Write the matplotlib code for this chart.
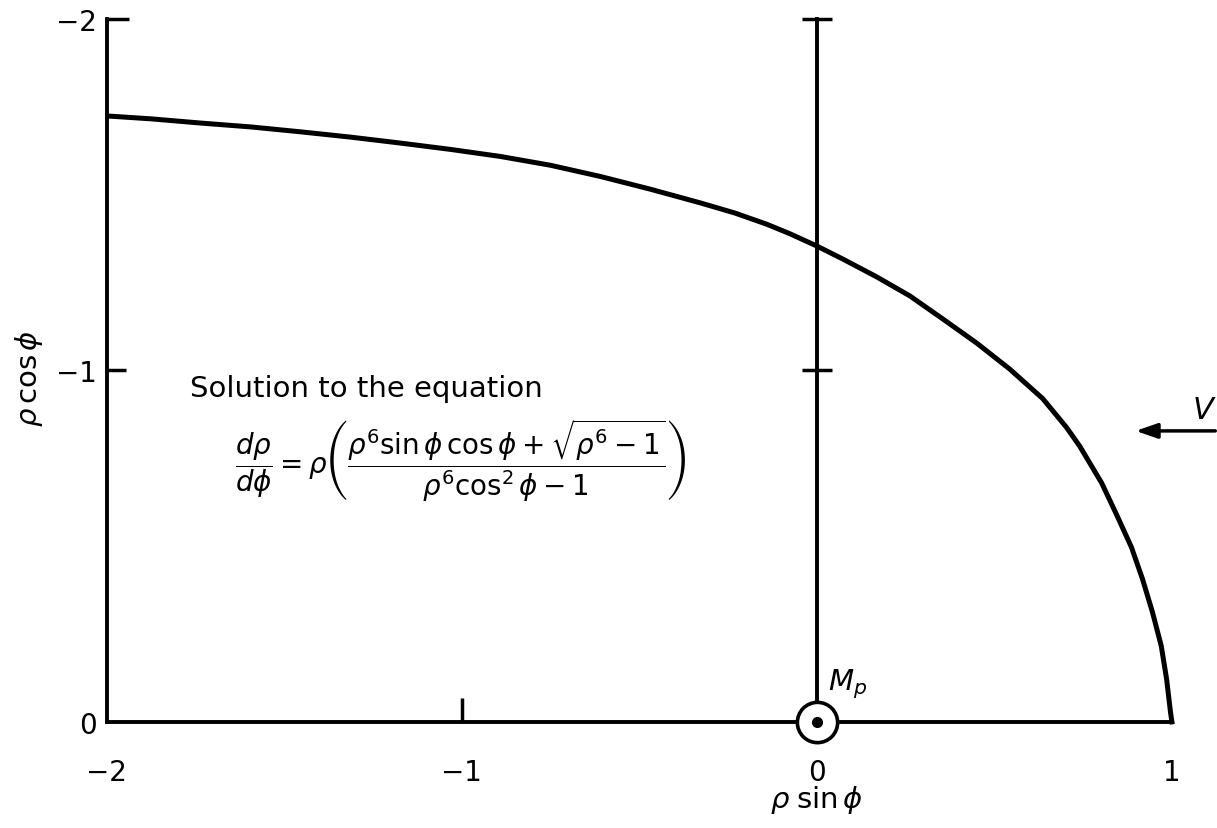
import matplotlib.pyplot as plt
import numpy as np

# 曲线上读取的点 (rho sin phi, rho cos phi)
curve_x = [-1.997, -1.876, -1.736, -1.595, -1.454, -1.314, -1.173, -1.032,
           -0.892, -0.751, -0.610, -0.470, -0.329, -0.231, -0.141, -0.076,
           0.0, 0.073, 0.169, 0.262, 0.354, 0.450, 0.543, 0.636, 0.703,
           0.740, 0.802, 0.844, 0.886, 0.917, 0.945, 0.970, 0.985, 0.996, 1.0]
curve_y = [-1.724, -1.716, -1.704, -1.693, -1.679, -1.664, -1.647, -1.629,
           -1.609, -1.584, -1.552, -1.516, -1.477, -1.448, -1.416, -1.389,
           -1.354, -1.317, -1.266, -1.212, -1.147, -1.078, -1.004, -0.920,
           -0.838, -0.785, -0.680, -0.590, -0.497, -0.407, -0.313, -0.216,
           -0.122, -0.028, 0.0]

x_ticks = [-2, -1, 0, 1]
x_labels = ['−2', '−1', '0', '1']
y_ticks = [0, -1, -2]
y_labels = ['0', '−1', '−2']

plt.rcParams['font.family'] = 'DejaVu Sans'
plt.rcParams['mathtext.fontset'] = 'dejavusans'

fig = plt.figure(figsize=(12.17, 8.29), dpi=100)
ax = fig.add_axes([0, 0, 1, 1])
ax.set_xlim(-2.301, 1.127)
ax.set_ylim(0.302, -2.057)
ax.patch.set_alpha(0)

# 坐标轴：左轴在 x=-2，底轴在 y=0
for side in ['top', 'right']:
    ax.spines[side].set_visible(False)
ax.spines['left'].set_position(('data', -2))
ax.spines['left'].set_bounds(-2, 0)
ax.spines['bottom'].set_position(('data', 0))
ax.spines['bottom'].set_bounds(-2, 1)
ax.spines['left'].set_linewidth(2.8)
ax.spines['bottom'].set_linewidth(2.8)

ax.set_xticks(x_ticks)
ax.set_xticklabels(x_labels, fontsize=20)
ax.set_yticks(y_ticks)
ax.set_yticklabels(y_labels, fontsize=20)
ax.tick_params(axis='x', direction='in', length=17, width=2.5, pad=26)
ax.tick_params(axis='y', direction='in', length=14, width=2.5, pad=7)

for i, t in enumerate(ax.xaxis.get_major_ticks()):
    if x_ticks[i] != -1:
        t.tick1line.set_visible(False)
ax.yaxis.get_major_ticks()[0].tick1line.set_visible(False)
ax.yaxis.get_major_ticks()[2].tick1line.set_markersize(16)

# x=0 处的竖线及刻度
ax.plot([0, 0], [0, -2], color='black', lw=2.8)
ax.plot([0, 0], [-2, -1], linestyle='none', marker='_', markersize=22,
        markeredgewidth=2.5, color='black')

# 解曲线
ax.plot(curve_x, curve_y, color='black', lw=3.6, solid_joinstyle='round')

# 原点处的 Mp
ax.plot(0, 0, 'o', markersize=29, markerfacecolor='white',
        markeredgecolor='black', markeredgewidth=2.6, zorder=5)
ax.plot(0, 0, 'o', markersize=7, color='black', zorder=6)
ax.text(0.085, -0.11, r'$M_p$', fontsize=21, ha='center', va='center')

# 来流方向 V
ax.annotate('', xy=(0.89, -0.828), xytext=(1.13, -0.828),
            arrowprops=dict(arrowstyle='-|>,head_length=1.3,head_width=0.45',
                            color='black', lw=2.5), annotation_clip=False)
ax.text(1.09, -0.89, r'$V$', fontsize=22, ha='center', va='center')

# 方程说明
ax.text(-1.765, -0.95, 'Solution to the equation', fontsize=21, ha='left', va='center')
ax.text(-1.64, -0.745,
        r'$\dfrac{d\rho}{d\phi} = \rho\left(\dfrac{\rho^6\sin\phi\,\cos\phi + \sqrt{\rho^6 - 1}}{\rho^6\cos^2\phi - 1}\right)$',
        fontsize=20, ha='left', va='center')

# 轴标题
ax.text(-2.22, -0.98, r'$\rho\,\cos\phi$', fontsize=21, rotation=90,
        ha='center', va='center')
ax.text(0.0, 0.22, r'$\rho\;\sin\phi$', fontsize=21, ha='center', va='center')

fig.savefig('out.png', dpi=100)
